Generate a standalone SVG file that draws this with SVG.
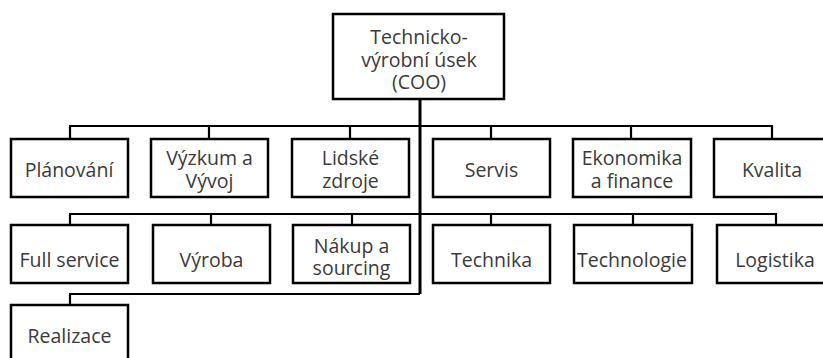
<svg xmlns="http://www.w3.org/2000/svg" width="823" height="358" viewBox="0 0 823 358">
  <style>
    .box { fill: #ffffff; stroke: #000000; stroke-width: 2.5; }
    .lbl { font-family: "Open Sans", "Noto Sans", "Liberation Sans", sans-serif; font-size: 19.5px; fill: #3a3a3a; text-anchor: middle; }
    .wire { fill: none; stroke: #000000; stroke-width: 2.2; }
    .trunk { fill: none; stroke: #000000; stroke-width: 3; }
  </style>
  <rect width="823" height="358" fill="#ffffff"/>

  <g id="connectors">
    <!-- main trunk -->
    <path class="trunk" d="M420 99 V294"/>
    <!-- first row bus -->
    <path class="wire" d="M70 139 V126 H772 V139"/>
    <path class="wire" d="M209 139 V126 M350 139 V126 M491 139 V126 M631 139 V126"/>
    <!-- second row bus -->
    <path class="wire" d="M70 225 V214 H776 V225"/>
    <path class="wire" d="M211 225 V214 M352 225 V214 M491 225 V214 M633 225 V214"/>
    <!-- third row -->
    <path class="wire" d="M70 305 V294 H420"/>
  </g>

  <g id="coo">
    <rect class="box" x="333" y="14" width="171" height="85"/>
    <text class="lbl" x="419" y="44">Technicko-</text>
    <text class="lbl" x="419" y="66.5">výrobní úsek</text>
    <text class="lbl" x="419" y="89">(COO)</text>
  </g>

  <g id="planovani">
    <rect class="box" x="11" y="139" width="117" height="58"/>
    <text class="lbl" x="69" y="177">Plánování</text>
  </g>
  <g id="vyzkum">
    <rect class="box" x="151" y="139" width="117" height="58"/>
    <text class="lbl" x="209.5" y="165">Výzkum a</text>
    <text class="lbl" x="209.5" y="188">Vývoj</text>
  </g>
  <g id="lidske-zdroje">
    <rect class="box" x="292" y="139" width="117" height="58"/>
    <text class="lbl" x="350.5" y="165">Lidské</text>
    <text class="lbl" x="350.5" y="188">zdroje</text>
  </g>
  <g id="servis">
    <rect class="box" x="433" y="139" width="117" height="58"/>
    <text class="lbl" x="491.5" y="177">Servis</text>
  </g>
  <g id="ekonomika">
    <rect class="box" x="573" y="139" width="118" height="58"/>
    <text class="lbl" x="632" y="165">Ekonomika</text>
    <text class="lbl" x="632" y="188">a finance</text>
  </g>
  <g id="kvalita">
    <rect class="box" x="714" y="139" width="117" height="58"/>
    <text class="lbl" x="772" y="177">Kvalita</text>
  </g>

  <g id="full-service">
    <rect class="box" x="11" y="225" width="117" height="58"/>
    <text class="lbl" x="69.5" y="267">Full service</text>
  </g>
  <g id="vyroba">
    <rect class="box" x="153" y="225" width="117" height="58"/>
    <text class="lbl" x="211.5" y="267">Výroba</text>
  </g>
  <g id="nakup">
    <rect class="box" x="293" y="225" width="117" height="58"/>
    <text class="lbl" x="351.5" y="252.5">Nákup a</text>
    <text class="lbl" x="351.5" y="274.5">sourcing</text>
  </g>
  <g id="technika">
    <rect class="box" x="433" y="225" width="117" height="58"/>
    <text class="lbl" x="491.5" y="267">Technika</text>
  </g>
  <g id="technologie">
    <rect class="box" x="574" y="225" width="118" height="58"/>
    <text class="lbl" x="632" y="267">Technologie</text>
  </g>
  <g id="logistika">
    <rect class="box" x="717" y="225" width="117" height="58"/>
    <text class="lbl" x="775" y="267">Logistika</text>
  </g>

  <g id="realizace">
    <rect class="box" x="11" y="305" width="117" height="60"/>
    <text class="lbl" x="69.5" y="343">Realizace</text>
  </g>
</svg>
